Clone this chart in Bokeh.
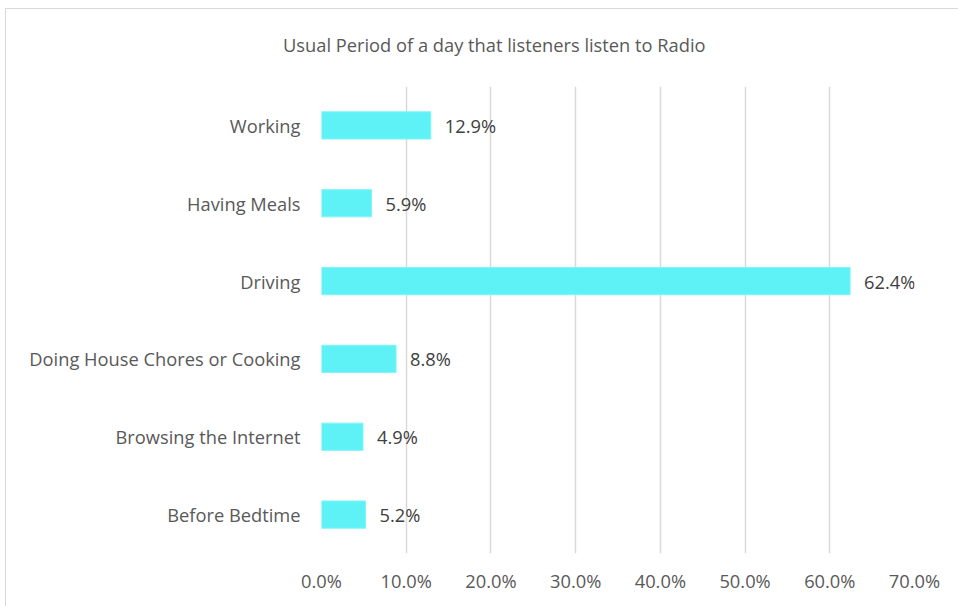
from bokeh.plotting import figure
from bokeh.models import FactorRange, Range1d, PrintfTickFormatter, FixedTicker, ColumnDataSource, Div
from bokeh.layouts import column
from bokeh.core.properties import value
from bokeh.embed import file_html
from bokeh.resources import INLINE

categories = ["Working", "Having Meals", "Driving", "Doing House Chores or Cooking",
              "Browsing the Internet", "Before Bedtime"]
values = [12.9, 5.9, 62.4, 8.8, 4.9, 5.2]
labels = ["12.9%", "5.9%", "62.4%", "8.8%", "4.9%", "5.2%"]
x_ticks = [0, 10, 20, 30, 40, 50, 60, 70]
title_text = "Usual Period of a day that listeners listen to Radio"

FONT = "Open Sans"
FS = "18.3px"

src = ColumnDataSource(dict(cat=categories, val=values, lab=labels))

title_div = Div(text=title_text, width=676, height=30, margin=(23, 0, 0, 277),
                styles={"font-family": FONT, "font-size": FS, "color": "#595959",
                        "white-space": "nowrap"})

p = figure(width=953, height=545, output_backend="svg", toolbar_location=None,
           y_range=FactorRange(*categories[::-1]), x_range=Range1d(0, 70),
           min_border_left=315, min_border_right=45, min_border_top=24, min_border_bottom=54)

p.hbar(y="cat", right="val", left=0, height=0.35, source=src,
       fill_color="#5EF2F7", line_color="#7FF5F9", line_width=1)
p.text(x="val", y="cat", text="lab", source=src, x_offset=14, text_baseline="middle",
       text_align="left", text_font=value(FONT), text_font_size=FS, text_color="#404040")

p.outline_line_color = None
p.background_fill_color = "white"
p.border_fill_color = "white"

p.xgrid.ticker = FixedTicker(ticks=x_ticks)
p.xgrid.grid_line_color = "#d9d9d9"
p.xgrid.grid_line_width = 1.5
p.ygrid.grid_line_color = None

p.xaxis.ticker = FixedTicker(ticks=x_ticks)
p.xaxis.formatter = PrintfTickFormatter(format="%.1f%%")
for ax in (p.xaxis, p.yaxis):
    ax.axis_line_color = None
    ax.major_tick_line_color = None
    ax.minor_tick_line_color = None
    ax.major_label_text_font = FONT
    ax.major_label_text_font_size = FS
    ax.major_label_text_color = "#595959"
p.xaxis.major_label_standoff = 8
p.yaxis.major_label_standoff = 15

layout = column(title_div, p, spacing=0,
                styles={"margin-left": "5px", "margin-top": "8px",
                        "border-left": "1px solid #d9d9d9", "border-top": "1px solid #d9d9d9"})

open("out.html", "w").write(file_html(layout, INLINE))
